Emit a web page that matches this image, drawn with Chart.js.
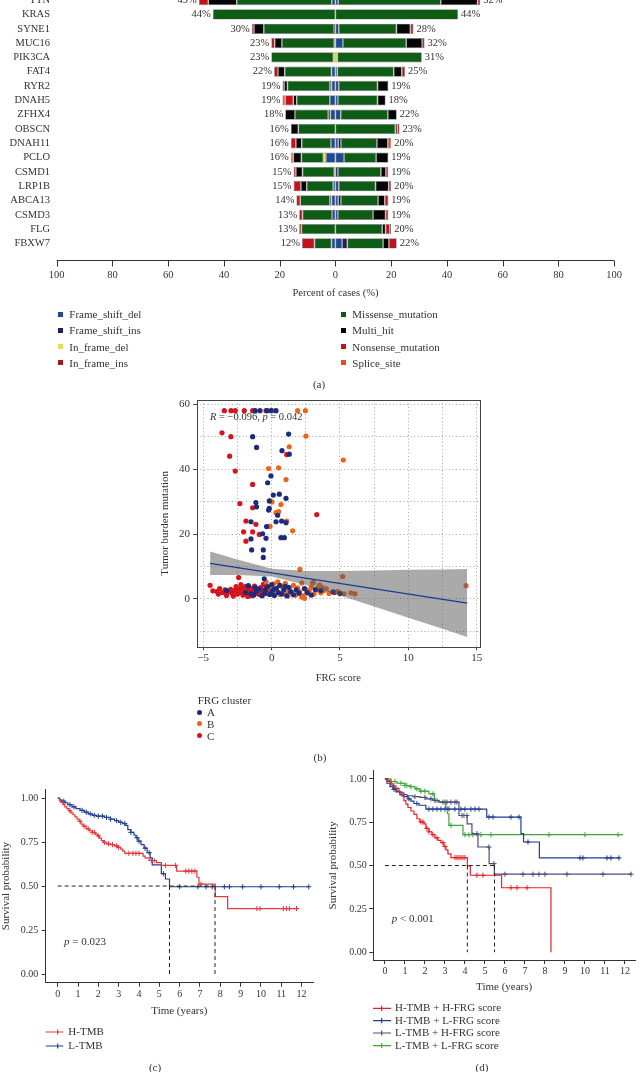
<!DOCTYPE html>
<html>
<head>
<meta charset="utf-8">
<script src="https://cdn.jsdelivr.net/npm/chart.js@4.4.1/dist/chart.umd.min.js"></script>
<style>
  body { margin: 0; background: #fff; }
  #page { position: relative; width: 640px; height: 1072px; overflow: hidden; font-family: "Liberation Serif", serif; color: #333; font-size: 11px; }
  canvas { position: absolute; }
  .t { position: absolute; white-space: nowrap; line-height: 14px; height: 14px; }
  .sq { position: absolute; width: 5px; height: 5px; }
  .dot { position: absolute; width: 5px; height: 5px; border-radius: 50%; }
</style>
</head>
<body>
<div id="page">
  <canvas id="chartA" width="640" height="330" style="left:0;top:-20px"></canvas>
  <canvas id="chartB" width="360" height="305" style="left:140px;top:390px"></canvas>
  <canvas id="chartC" width="320" height="292" style="left:0;top:780px"></canvas>
  <canvas id="chartD" width="320" height="310" style="left:320px;top:762px"></canvas>
</div>
<script>
// ---------- (a) mutation butterfly ----------
const genes = ["TTN", "KRAS", "SYNE1", "MUC16", "PIK3CA", "FAT4", "RYR2", "DNAH5", "ZFHX4", "OBSCN", "DNAH11", "PCLO", "CSMD1", "LRP1B", "ABCA13", "CSMD3", "FLG", "FBXW7"];
const leftPct = [49, 44, 30, 23, 23, 22, 19, 19, 18, 16, 16, 16, 15, 15, 14, 13, 13, 12];
const rightPct = [52, 44, 28, 32, 31, 25, 19, 18, 22, 23, 20, 19, 19, 20, 19, 19, 20, 22];

const typeNames = ["Frame_shift_del", "Frame_shift_ins", "In_frame_del", "In_frame_ins", "Missense_mutation", "Multi_hit", "Nonsense_mutation", "Splice_site"];
const typeColors = ["#1f4a8c", "#2b1a5c", "#e6df4e", "#a3191c", "#0e5c16", "#050505", "#c3121b", "#e5521b"];

const leftFsDel    = [1.3, 0, 0.5, 0.4, 0, 1.4, 1.4, 2, 1.8, 0, 1.6, 3.4, 0, 0.8, 1.4, 1.2, 0, 1.4];
const leftFsIns    = [0, 0, 0, 0, 0, 0, 0.6, 0, 0.8, 0, 0, 0, 0.4, 0, 0.6, 0, 0, 0];
const leftIfDel    = [0, 0, 0, 0, 0.7, 0, 0, 0, 0, 0, 0, 0.9, 0, 0, 0, 0, 0, 0];
const leftIfIns    = [0, 0, 0, 0, 0, 0, 0, 0, 0, 0, 0, 0, 0, 0, 0, 0, 0, 0];
const leftMissense = [34.1, 44, 25.2, 18.8, 22.3, 16.8, 15.2, 11.9, 11.9, 13.3, 10.5, 7.9, 11.4, 9.5, 10.6, 10.6, 12.2, 6.1];
const leftMultiHit = [10.2, 0, 3.5, 2.6, 0, 2.4, 1.2, 1.2, 3.5, 2.7, 2.1, 2.9, 2.4, 2.1, 0, 0, 0, 0];
const leftNonsense = [3.4, 0, 0.8, 1.2, 0, 1.4, 0.6, 2.9, 0, 0, 1.8, 0, 0.8, 2.6, 1.4, 1.2, 0.8, 4.5];
const leftSplice   = [0, 0, 0, 0, 0, 0, 0, 1, 0, 0, 0, 0.9, 0, 0, 0, 0, 0, 0];

const rightFsDel    = [1, 0, 1.2, 2.7, 0, 0.7, 1.2, 0.9, 1.9, 0, 1, 3.1, 0, 1.2, 1, 0.9, 0, 2.4];
const rightFsIns    = [0, 0, 0, 0, 0, 0, 0, 0, 0, 0, 1, 0, 0.9, 0, 1, 0, 0, 1.9];
const rightIfDel    = [0, 0, 0, 0, 0.7, 0, 0, 0, 0, 0, 0, 0, 0, 0, 0, 0, 0, 0];
const rightIfIns    = [0, 0, 0, 0, 0, 0, 0, 0, 0, 0, 0, 0, 0, 0, 0, 0, 0, 0];
const rightMissense = [36.8, 44, 20.7, 22.7, 30.3, 20.2, 13.9, 14.2, 16.9, 21.5, 12.9, 11.5, 15.4, 13.2, 13.3, 12.6, 16.8, 12.8];
const rightMultiHit = [13.2, 0, 5, 5.7, 0, 2.9, 3.9, 2.9, 3.2, 0.7, 3.9, 4.4, 1.8, 4.7, 2.4, 4.5, 1.2, 2.1];
const rightNonsense = [1, 0, 1.1, 0.9, 0, 1.2, 0, 0, 0, 0.8, 0, 0, 0.9, 0.9, 1.3, 1, 1.5, 2.8];
const rightSplice   = [0, 0, 0, 0, 0, 0, 0, 0, 0, 0, 1.2, 0, 0, 0, 0, 0, 0.5, 0];

const pctTicks = [-100, -80, -60, -40, -20, 0, 20, 40, 60, 80, 100];

// ---------- (b) FRG score vs TMB ----------
const clusterA = [
  [-1.2, 58], [-0.85, 58], [-0.34, 58], [-0.05, 58], [0.32, 58],
  [-1.39, 50.0], [-1.1, 46.7], [1.24, 50.8], [1.29, 44.6], [0.76, 45.7], [-0.05, 37.9], [-0.29, 35.8], [0.12, 32.0],
  [0.56, 32.3], [1.05, 31.0], [-1.15, 29.7], [-1.1, 28.4], [-0.17, 30.2], [-0.17, 27.9], [-0.22, 27.4], [0.44, 25.8],
  [0.32, 23.8], [0.73, 24.0], [1.05, 23.5], [-1.51, 23.8], [-0.37, 22.3], [-0.41, 18.7], [-1.51, 18.5], [-0.66, 20.1],
  [0.68, 18.9], [0.93, 18.9], [-1.46, 15.1], [-0.61, 15.1], [-0.61, 12.8], [-0.54, 6.2],
  [-3.3, 2.6], [-1.7, 4.1], [-1.5, 1.6], [-1.3, 1.2], [-1.1, 2.4], [-0.9, 3.1], [-0.7, 1.0], [-0.5, 2.0], [-0.3, 3.8],
  [-0.15, 1.4], [0.0, 4.4], [0.05, 2.5], [0.2, 1.1], [0.35, 3.3], [0.5, 2.0], [0.6, 4.2], [0.75, 1.5], [0.9, 2.9],
  [1.1, 1.0], [1.25, 3.6], [1.4, 2.2], [1.6, 1.3], [1.8, 2.8], [2.0, 1.8], [2.4, 3.2], [2.9, 1.2], [3.6, 2.6],
  [4.5, 2.2], [5.0, 1.7], [-1.9, 2.0], [-0.45, 3.0], [0.15, 3.0], [1.0, 3.9], [-1.2, 3.6], [3.2, 2.9], [2.6, 2.0]
];
const clusterB = [
  [0.07, 58], [1.9, 58], [2.47, 58],
  [2.51, 50.2], [1.29, 46.9], [5.24, 42.8], [-0.22, 40.2], [0.51, 40.4], [1.05, 36.8], [0.02, 29.9], [0.68, 29.1],
  [0.32, 26.6], [0.51, 26.9], [1.54, 21.0], [1.1, 24.0], [2.07, 9.1], [3.05, 5.1], [5.2, 6.9], [14.22, 4.1], [-0.12, 22.4],
  [-0.4, 5.2], [-0.2, 3.5], [0.0, 1.8], [0.15, 4.7], [0.3, 2.7], [0.45, 5.3], [0.6, 1.4], [0.7, 3.9], [0.85, 2.4],
  [1.0, 4.8], [1.15, 1.9], [1.3, 3.1], [1.45, 2.2], [1.6, 4.2], [1.75, 1.2], [1.9, 3.4], [2.05, 2.3], [2.2, 4.9],
  [2.3, 1.0], [2.4, 0.2], [2.5, 3.0], [2.6, 1.8], [2.75, 2.6], [2.9, 3.6], [3.1, 1.5], [3.3, 2.8], [3.45, 3.9],
  [3.6, 1.9], [3.8, 2.5], [4.0, 3.1], [4.2, 1.7], [4.8, 2.3], [5.3, 1.6], [5.8, 1.9], [6.1, 1.6], [3.7, 3.6],
  [3.0, 5.0], [3.5, 4.3], [2.2, 0.6], [1.2, 0.9]
];
const clusterC = [
  [-3.46, 58], [-2.97, 58], [-2.66, 58], [-2.0, 58], [-1.39, 58], [-0.41, 58],
  [-3.63, 51.2], [-2.98, 50.0], [-3.07, 44.0], [-2.66, 39.4], [-2.32, 29.4], [-1.39, 35.3], [-1.39, 28.1], [-1.88, 24.0],
  [-1.15, 23.0], [-2.05, 20.7], [-1.39, 20.7], [-1.88, 17.8], [-0.9, 19.9], [-0.17, 22.4], [1.1, 44.5], [3.3, 26.0], [-2.41, 6.6],
  [-4.5, 4.2], [-4.3, 2.5], [-4.0, 2.3], [-3.8, 3.2], [-3.6, 2.0], [-3.4, 2.8], [-3.2, 2.2], [-3.0, 3.0], [-2.9, 1.8],
  [-2.7, 2.6], [-2.6, 3.8], [-2.5, 1.5], [-2.4, 2.9], [-2.3, 2.0], [-2.2, 3.4], [-2.1, 1.2], [-2.0, 2.5], [-1.9, 3.9],
  [-1.8, 1.8], [-1.7, 2.9], [-1.6, 2.2], [-1.5, 3.3], [-1.45, 1.0], [-1.35, 2.6], [-1.25, 4.0], [-1.2, 1.7], [-1.1, 3.0],
  [-1.0, 2.1], [-0.9, 1.4], [-0.8, 3.5], [-0.7, 2.4], [-0.6, 4.5], [-0.5, 1.6], [-2.8, 0.9], [-3.3, 1.1], [-1.75, 0.8],
  [-0.3, 2.8], [4.6, 2.0], [-2.25, 4.4], [-3.9, 1.5]
];
const clusterNames = ["A", "B", "C"];
const clusterColors = ["#1b2c7c", "#f0641a", "#d5141c"];
const fitLine = [[-4.5, 11.0], [14.3, -1.3]];
const bandX = [-4.5, -2.5, 0, 2.5, 5, 7.5, 10, 12.5, 14.3];
const bandUpper = [14.6, 12.2, 9.3, 8.6, 8.6, 8.8, 9.0, 9.1, 9.2];
const bandLower = [7.4, 7.4, 6.9, 4.3, 1.1, -2.3, -5.8, -9.2, -11.7];
const scoreGrid = [-5, -2.5, 0, 2.5, 5, 7.5, 10, 12.5, 15];
const scoreLabels = [-5, 0, 5, 10, 15];
const tmbGrid = [-10, 0, 10, 20, 30, 40, 50, 60];
const tmbLabels = [0, 20, 40, 60];

// ---------- (c) TMB survival ----------
const hTmbTime = [0, 0.08, 0.15, 0.25, 0.35, 0.45, 0.55, 0.65, 0.75, 0.85, 0.95, 1.05, 1.15, 1.25, 1.4, 1.55, 1.7, 1.85, 1.95, 2.05, 2.15, 2.25, 2.4, 2.6, 2.8, 2.95, 3.1, 3.2, 3.3, 4.2, 4.3, 4.5, 4.85, 5.1, 5.85, 6.85, 6.95, 7.75, 8.36, 11.84];
const hTmbSurv = [1.0, 0.985, 0.975, 0.962, 0.95, 0.94, 0.928, 0.916, 0.905, 0.893, 0.88, 0.868, 0.852, 0.84, 0.825, 0.815, 0.805, 0.795, 0.785, 0.772, 0.758, 0.748, 0.74, 0.735, 0.728, 0.72, 0.71, 0.698, 0.686, 0.67, 0.66, 0.645, 0.633, 0.617, 0.585, 0.55, 0.511, 0.44, 0.372, 0.372];
const hTmbCensor = [0.6, 1.1, 1.3, 1.5, 1.7, 1.8, 2.0, 2.3, 2.5, 2.7, 2.9, 3.0, 3.5, 3.7, 3.85, 4.0, 4.6, 4.75, 5.3, 5.8, 6.3, 6.45, 6.6, 6.75, 7.05, 9.8, 9.95, 11.1, 11.25, 11.4, 11.75];
const lTmbTime = [0, 0.1, 0.2, 0.35, 0.5, 0.7, 0.9, 1.1, 1.3, 1.5, 1.7, 1.9, 2.3, 2.6, 2.8, 3.0, 3.2, 3.35, 3.45, 3.6, 3.75, 3.85, 3.95, 4.1, 4.25, 4.4, 4.55, 4.65, 5.1, 5.3, 5.5, 12.38];
const lTmbSurv = [1.0, 0.99, 0.982, 0.972, 0.962, 0.95, 0.94, 0.93, 0.92, 0.91, 0.902, 0.897, 0.89, 0.88, 0.872, 0.862, 0.855, 0.845, 0.82, 0.805, 0.79, 0.775, 0.755, 0.735, 0.715, 0.69, 0.66, 0.62, 0.57, 0.54, 0.496, 0.496];
const lTmbCensor = [0.3, 0.6, 0.8, 1.2, 1.4, 1.6, 1.8, 2.0, 2.2, 2.4, 2.6, 2.9, 3.1, 3.3, 3.6, 3.9, 4.0, 4.3, 4.5, 5.2, 6.0, 6.9, 7.3, 7.6, 8.2, 8.45, 9.1, 10.0, 10.9, 11.6, 12.35];
const mediansC = [5.5, 7.74];

// ---------- (d) TMB + FRG survival ----------
const hhTime = [0, 0.1, 0.25, 0.4, 0.55, 0.7, 0.85, 0.95, 1.05, 1.15, 1.3, 1.45, 1.6, 1.75, 1.95, 2.05, 2.2, 2.35, 2.5, 2.65, 2.8, 2.95, 3.05, 3.15, 3.3, 4.12, 4.27, 5.83, 8.3];
const hhSurv = [1.0, 0.99, 0.975, 0.96, 0.945, 0.925, 0.9, 0.875, 0.855, 0.835, 0.815, 0.795, 0.77, 0.752, 0.74, 0.715, 0.695, 0.678, 0.66, 0.645, 0.632, 0.61, 0.59, 0.568, 0.546, 0.498, 0.444, 0.372, 0];
const hhCensor = [1.8, 1.9, 2.1, 2.2, 2.4, 2.6, 2.9, 3.0, 3.5, 3.6, 3.7, 3.8, 3.9, 4.0, 4.6, 4.9, 6.3, 6.6, 7.1];
const hlTime = [0, 0.1, 0.25, 0.4, 0.55, 0.75, 0.95, 1.15, 1.3, 1.45, 1.7, 2.05, 5.09, 6.8, 6.93, 7.72, 11.75];
const hlSurv = [1.0, 0.975, 0.955, 0.94, 0.925, 0.908, 0.898, 0.885, 0.872, 0.858, 0.848, 0.826, 0.78, 0.684, 0.636, 0.544, 0.544];
const hlCensor = [0.45, 1.2, 1.6, 2.2, 2.4, 2.6, 2.8, 3.0, 3.2, 3.5, 3.8, 4.0, 4.3, 4.5, 4.7, 5.2, 5.4, 6.3, 6.7, 7.15, 9.75, 9.9, 11.1, 11.3, 11.7];
const lhTime = [0, 0.15, 0.3, 0.45, 0.6, 0.75, 0.95, 1.1, 1.4, 1.75, 2.05, 2.4, 2.7, 3.7, 4.11, 4.35, 4.65, 5.21, 5.47, 12.33];
const lhSurv = [1.0, 0.985, 0.965, 0.945, 0.93, 0.92, 0.91, 0.903, 0.898, 0.893, 0.885, 0.876, 0.866, 0.789, 0.741, 0.684, 0.607, 0.511, 0.45, 0.45];
const lhCensor = [1.5, 2.0, 2.3, 2.5, 2.9, 3.1, 3.3, 3.5, 3.6, 3.85, 3.95, 4.1, 4.6, 5.2, 5.45, 6.0, 6.9, 7.4, 7.7, 8.0, 9.1, 10.9, 12.3];
const llTime = [0, 0.3, 0.6, 1.0, 1.25, 1.5, 1.75, 2.2, 2.47, 2.71, 3.04, 3.12, 3.2, 3.9, 11.9];
const llSurv = [1.0, 0.985, 0.975, 0.962, 0.955, 0.943, 0.929, 0.914, 0.875, 0.866, 0.837, 0.799, 0.732, 0.678, 0.678];
const llCensor = [0.3, 0.5, 0.8, 1.0, 1.1, 1.3, 1.6, 1.8, 2.0, 2.4, 2.6, 3.0, 3.3, 4.0, 4.2, 4.4, 4.8, 5.3, 8.2, 10.0, 11.65];
const mediansD = [4.12, 5.48];

const yearTicks = [0, 1, 2, 3, 4, 5, 6, 7, 8, 9, 10, 11, 12];
const survTicks = [0, 0.25, 0.5, 0.75, 1];

Chart.defaults.font.family = '"Liberation Serif", serif';
Chart.defaults.color = "#333";
const serif = (size, style) => ({ family: '"Liberation Serif", serif', size: size, style: style || "normal" });
const page = document.getElementById("page");

function addText(txt, x, y, centered) {
  const d = document.createElement("div");
  d.className = "t";
  d.textContent = txt;
  d.style.left = x + "px";
  d.style.top = (y - 7) + "px";
  if (centered) d.style.transform = "translateX(-50%)";
  page.appendChild(d);
}

// ---------- draw (a) ----------
const leftSeries = [leftFsDel, leftFsIns, leftIfDel, leftIfIns, leftMissense, leftMultiHit, leftNonsense, leftSplice];
const rightSeries = [rightFsDel, rightFsIns, rightIfDel, rightIfIns, rightMissense, rightMultiHit, rightNonsense, rightSplice];
const barDatasets = [];
typeNames.forEach((name, i) => {
  barDatasets.push({ label: name, data: leftSeries[i].map(v => (v ? -v : null)), backgroundColor: typeColors[i] });
  barDatasets.push({ label: name, data: rightSeries[i].map(v => (v ? v : null)), backgroundColor: typeColors[i] });
});

const mafExtras = {
  id: "mafExtras",
  afterDraw(chart) {
    const { ctx, chartArea, scales } = chart;
    const x = scales.x, y = scales.y;
    const axisY = Math.round(chartArea.bottom + 9.4) + 0.5;
    ctx.save();
    ctx.strokeStyle = "#333";
    ctx.lineWidth = 1;
    ctx.beginPath();
    ctx.moveTo(x.getPixelForValue(-100), axisY);
    ctx.lineTo(x.getPixelForValue(100), axisY);
    x.ticks.forEach(t => {
      const px = Math.round(x.getPixelForValue(t.value)) + 0.5;
      ctx.moveTo(px, axisY);
      ctx.lineTo(px, axisY + 6);
    });
    ctx.stroke();
    ctx.font = '10.5px "Liberation Serif"';
    ctx.fillStyle = "#333";
    ctx.textBaseline = "middle";
    genes.forEach((g, i) => {
      const py = y.getPixelForValue(i);
      ctx.textAlign = "right";
      ctx.fillText(leftPct[i] + "%", x.getPixelForValue(-leftPct[i]) - 2, py);
      ctx.textAlign = "left";
      ctx.fillText(rightPct[i] + "%", x.getPixelForValue(rightPct[i]) + 3, py);
    });
    ctx.restore();
  }
};

new Chart(document.getElementById("chartA"), {
  type: "bar",
  data: { labels: genes, datasets: barDatasets },
  options: {
    indexAxis: "y",
    responsive: false,
    animation: false,
    devicePixelRatio: 1,
    barPercentage: 0.72,
    categoryPercentage: 1,
    borderColor: "#808080",
    borderWidth: 0.7,
    borderSkipped: false,
    layout: { padding: { top: 11.8, right: 16.7, left: 0, bottom: 0 } },
    plugins: { legend: { display: false }, tooltip: { enabled: false } },
    scales: {
      x: {
        stacked: true,
        min: -100,
        max: 100,
        afterBuildTicks: s => { s.ticks = pctTicks.map(v => ({ value: v })); },
        afterFit: s => { s.height = 59.4; },
        grid: { display: false, drawTicks: false },
        border: { display: false },
        ticks: { font: serif(10.5), color: "#333", padding: 18, maxRotation: 0, autoSkip: false, callback: v => Math.abs(v) },
        title: { display: true, text: "Percent of cases (%)", font: serif(10.5), color: "#333", padding: { top: 0, bottom: 10.4 } }
      },
      y: {
        stacked: true,
        afterFit: s => { s.width = 56.7; },
        grid: { display: false, drawTicks: false },
        border: { display: false },
        ticks: { font: serif(10.5), color: "#333", padding: 6.7, autoSkip: false }
      }
    }
  },
  plugins: [mafExtras]
});

// legend (a)
const legendRowsA = [314.3, 330.3, 346.7, 362.7];
typeNames.forEach((name, i) => {
  const col = i < 4 ? 0 : 1;
  const row = i % 4;
  const sq = document.createElement("div");
  sq.className = "sq";
  sq.style.background = typeColors[i];
  sq.style.left = (col ? 341 : 58) + "px";
  sq.style.top = (legendRowsA[row] - 2.5) + "px";
  page.appendChild(sq);
  addText(name, col ? 352.3 : 69.3, legendRowsA[row]);
});
addText("(a)", 319, 384, true);

// ---------- draw (b) ----------
const toXY = arr => arr.map(p => ({ x: p[0], y: p[1] }));
const boxAndLabel = {
  id: "boxAndLabel",
  afterDraw(chart) {
    const { ctx, chartArea: a } = chart;
    ctx.save();
    ctx.strokeStyle = "#444";
    ctx.lineWidth = 1;
    ctx.strokeRect(Math.round(a.left) + 0.5, Math.round(a.top) + 0.5, Math.round(a.right - a.left), Math.round(a.bottom - a.top));
    const parts = [["R", true], [" = \u22120.096, ", false], ["p", true], [" = 0.042", false]];
    let px = a.left + 13.3;
    const py = a.top + 17.7;
    ctx.fillStyle = "#333";
    ctx.textBaseline = "middle";
    ctx.textAlign = "left";
    parts.forEach(([txt, it]) => {
      ctx.font = (it ? "italic " : "") + '10.5px "Liberation Serif"';
      ctx.fillText(txt, px, py);
      px += ctx.measureText(txt).width;
    });
    ctx.restore();
  }
};

new Chart(document.getElementById("chartB"), {
  type: "scatter",
  data: {
    datasets: [
      { type: "line", data: toXY(fitLine), borderColor: "#1f3a8f", borderWidth: 1.3, pointRadius: 0 },
      { type: "line", data: bandX.map((x, i) => ({ x: x, y: bandUpper[i] })), borderWidth: 0, pointRadius: 0, fill: false },
      { type: "line", data: bandX.map((x, i) => ({ x: x, y: bandLower[i] })), borderWidth: 0, pointRadius: 0, fill: "-1", backgroundColor: "rgba(85,85,85,0.5)" },
      { label: clusterNames[0], data: toXY(clusterA), backgroundColor: clusterColors[0], pointRadius: 2.6, borderWidth: 0 },
      { label: clusterNames[1], data: toXY(clusterB), backgroundColor: clusterColors[1], pointRadius: 2.6, borderWidth: 0 },
      { label: clusterNames[2], data: toXY(clusterC), backgroundColor: clusterColors[2], pointRadius: 2.6, borderWidth: 0 }
    ]
  },
  options: {
    responsive: false,
    animation: false,
    devicePixelRatio: 1,
    layout: { padding: { top: 10, right: 20, left: 0, bottom: 0 } },
    plugins: { legend: { display: false }, tooltip: { enabled: false } },
    scales: {
      x: {
        type: "linear",
        min: -5.48,
        max: 15.24,
        afterBuildTicks: s => { s.ticks = scoreGrid.map(v => ({ value: v })); },
        afterFit: s => { s.height = 48.3; },
        grid: { color: "#a8a8a8", lineWidth: 1, tickLength: 3.5, tickWidth: 1, tickColor: c => (scoreLabels.includes(c.tick && c.tick.value) ? "#444" : "rgba(0,0,0,0)") },
        border: { display: false, dash: [1, 2.5] },
        ticks: { font: serif(11), color: "#333", padding: 1.2, maxRotation: 0, autoSkip: false, callback: v => (scoreLabels.includes(v) ? (v < 0 ? "\u2212" + Math.abs(v) : v) : "") },
        title: { display: true, text: "FRG score", font: serif(10.5), color: "#333", padding: { top: 0, bottom: 10.4 } }
      },
      y: {
        type: "linear",
        min: -14.7,
        max: 61.3,
        afterBuildTicks: s => { s.ticks = tmbGrid.map(v => ({ value: v })); },
        afterFit: s => { s.width = 56.7; },
        grid: { color: "#a8a8a8", lineWidth: 1, tickLength: 3.5, tickWidth: 1, tickColor: c => (tmbLabels.includes(c.tick && c.tick.value) ? "#444" : "rgba(0,0,0,0)") },
        border: { display: false, dash: [1, 2.5] },
        ticks: { font: serif(11), color: "#333", padding: 3.2, autoSkip: false, callback: v => (tmbLabels.includes(v) ? v : "") },
        title: { display: true, text: "Tumor burden mutation", font: serif(11), color: "#333", padding: { top: 18.4, bottom: 0 } }
      }
    }
  },
  plugins: [boxAndLabel]
});

// legend (b)
addText("FRG cluster", 197.7, 700);
const legendRowsB = [712, 723.7, 735.7];
clusterNames.forEach((n, i) => {
  const d = document.createElement("div");
  d.className = "dot";
  d.style.background = clusterColors[i];
  d.style.left = "196.8px";
  d.style.top = (legendRowsB[i] - 2.5) + "px";
  page.appendChild(d);
  addText(n, 207, legendRowsB[i]);
});
addText("(b)", 320, 757, true);

// ---------- survival helpers ----------
function stepAt(times, surv, t) {
  let v = surv[0];
  for (let i = 0; i < times.length; i++) if (times[i] <= t) v = surv[i];
  return v;
}
function kmSets(times, surv, censor, color) {
  return [
    { type: "line", data: times.map((t, i) => ({ x: t, y: surv[i] })), stepped: true, borderColor: color, borderWidth: 1.2, pointRadius: 0, fill: false },
    { data: censor.map(t => ({ x: t, y: stepAt(times, surv, t) })), pointStyle: "cross", pointRadius: 2.6, borderColor: color, borderWidth: 1, backgroundColor: color }
  ];
}
function medianSets(medians) {
  const dash = { type: "line", borderColor: "#222", borderWidth: 1, borderDash: [4, 3], pointRadius: 0, fill: false };
  const sets = [Object.assign({}, dash, { data: [{ x: 0, y: 0.5 }, { x: Math.max(...medians), y: 0.5 }] })];
  medians.forEach(m => sets.push(Object.assign({}, dash, { data: [{ x: m, y: 0.5 }, { x: m, y: 0 }] })));
  return sets;
}
function kmDecor(o) {
  return {
    id: "kmDecor",
    afterDraw(chart) {
      const ctx = chart.ctx;
      ctx.save();
      ctx.textBaseline = "middle";
      ctx.textAlign = "left";
      o.items.forEach((it, i) => {
        const y = o.rows[i];
        ctx.strokeStyle = it.color;
        ctx.lineWidth = 1.2;
        ctx.beginPath();
        ctx.moveTo(o.x1, y); ctx.lineTo(o.x2, y);
        ctx.moveTo(o.xm, y - 2.6); ctx.lineTo(o.xm, y + 2.6);
        ctx.stroke();
        ctx.font = '11px "Liberation Serif"';
        ctx.fillStyle = "#333";
        ctx.fillText(it.label, o.tx, y);
      });
      let px = o.px;
      o.pText.forEach(([txt, itl]) => {
        ctx.font = (itl ? "italic " : "") + '11px "Liberation Serif"';
        ctx.fillStyle = "#333";
        ctx.fillText(txt, px, o.py);
        px += ctx.measureText(txt).width;
      });
      ctx.restore();
    }
  };
}
function kmScales(xmin, xmax, ymin, ymax, yWidth, xHeight, yLabPad, yTitlePad, xLabPad, xTitlePad) {
  const axisGrid = { display: true, drawOnChartArea: false, drawTicks: true, tickLength: 4, tickColor: "#333", tickWidth: 1 };
  return {
    x: {
      type: "linear", min: xmin, max: xmax,
      afterBuildTicks: s => { s.ticks = yearTicks.map(v => ({ value: v })); },
      afterFit: s => { s.height = xHeight; },
      grid: axisGrid,
      border: { display: true, color: "#333", width: 1 },
      ticks: { font: serif(10), color: "#333", padding: xLabPad, maxRotation: 0, autoSkip: false },
      title: { display: true, text: "Time (years)", font: serif(11), color: "#333", padding: { top: 0, bottom: xTitlePad } }
    },
    y: {
      type: "linear", min: ymin, max: ymax,
      afterBuildTicks: s => { s.ticks = survTicks.map(v => ({ value: v })); },
      afterFit: s => { s.width = yWidth; },
      grid: axisGrid,
      border: { display: true, color: "#333", width: 1 },
      ticks: { font: serif(10), color: "#333", padding: yLabPad, autoSkip: false, callback: v => v.toFixed(2) },
      title: { display: true, text: "Survival probability", font: serif(11), color: "#333", padding: { top: yTitlePad, bottom: 0 } }
    }
  };
}

// ---------- draw (c) ----------
const colH = "#e5373a", colL = "#243f8e";
new Chart(document.getElementById("chartC"), {
  type: "scatter",
  data: {
    datasets: [].concat(
      medianSets(mediansC),
      kmSets(hTmbTime, hTmbSurv, hTmbCensor, colH),
      kmSets(lTmbTime, lTmbSurv, lTmbCensor, colL)
    )
  },
  options: {
    responsive: false, animation: false, devicePixelRatio: 1,
    layout: { padding: { top: 8, right: 7, left: 0, bottom: 49.3 } },
    plugins: { legend: { display: false }, tooltip: { enabled: false } },
    scales: kmScales(-0.59, 12.56, -0.049, 1.049, 45.7, 40, 3.4, 0, 1.3, 5.1)
  },
  plugins: [kmDecor({
    items: [{ label: "H-TMB", color: colH }, { label: "L-TMB", color: colL }],
    rows: [252, 266], x1: 45.7, x2: 63.3, xm: 57.7, tx: 68.3,
    pText: [["p", true], [" = 0.023", false]], px: 64, py: 161.7
  })]
});
addText("(c)", 155, 1067, true);

// ---------- draw (d) ----------
const colHH = "#e4232a", colHL = "#1f3e93", colLH = "#4f4c7e", colLL = "#3fa43a";
new Chart(document.getElementById("chartD"), {
  type: "scatter",
  data: {
    datasets: [].concat(
      medianSets(mediansD),
      kmSets(hhTime, hhSurv, hhCensor, colHH),
      kmSets(hlTime, hlSurv, hlCensor, colHL),
      kmSets(lhTime, lhSurv, lhCensor, colLH),
      kmSets(llTime, llSurv, llCensor, colLL)
    )
  },
  options: {
    responsive: false, animation: false, devicePixelRatio: 1,
    layout: { padding: { top: 8, right: 2, left: 0, bottom: 72 } },
    plugins: { legend: { display: false }, tooltip: { enabled: false } },
    scales: kmScales(-0.58, 12.5, -0.045, 1.048, 53.3, 40, 2.6, 6.4, 1.7, 6.7)
  },
  plugins: [kmDecor({
    items: [
      { label: "H-TMB + H-FRG score", color: colHH },
      { label: "H-TMB + L-FRG score", color: colHL },
      { label: "L-TMB + H-FRG score", color: colLH },
      { label: "L-TMB + L-FRG score", color: colLL }
    ],
    rows: [246.3, 258.7, 271, 283.7], x1: 53, x2: 71, xm: 61.7, tx: 75,
    pText: [["p", true], [" < 0.001", false]], px: 71.7, py: 157
  })]
});
addText("(d)", 482, 1067, true);
</script>
</body>
</html>
